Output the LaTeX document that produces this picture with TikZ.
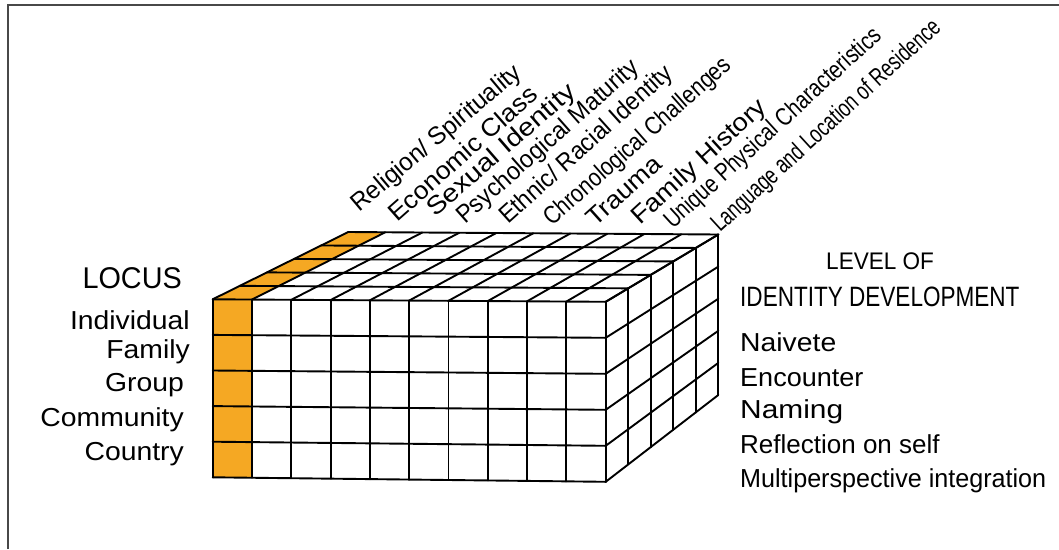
\documentclass[tikz,border=0pt]{standalone}
\usepackage{fontspec}
\usepackage{graphicx}
\setmainfont{Liberation Sans}
\definecolor{locusorange}{RGB}{245,168,35}
\definecolor{framegray}{RGB}{72,72,72}
\tikzset{
  gridline/.style={line width=1.9pt, line join=round, line cap=round, black},
  toplabel/.style={anchor=base west, inner sep=0pt, font=\fontsize{25}{25}\selectfont},
  locuslabel/.style={anchor=base east, inner sep=0pt, font=\fontsize{26}{26}\selectfont},
  levellabel/.style={anchor=base west, inner sep=0pt, font=\fontsize{26}{26}\selectfont},
}
% horizontally stretched text
\newcommand{\wide}[2]{\scalebox{#1}[1]{#2}}
\begin{document}
\begin{tikzpicture}[x=1pt,y=-1pt]
\useasboundingbox (0,0) rectangle (1059,549);
\fill[white] (0,0) rectangle (1059,549);
\draw[framegray, line width=2pt] (8,549) -- (8,5) -- (1059,5);

% lattice points of the 10 x 5 x 5 block (u: across, v: down, w: depth)
\foreach \u in {0,...,10}{
  \foreach \v in {0,...,5}{
    \foreach \w in {0,...,5}{
      \coordinate (p\u-\v-\w) at ({212.7+39.3*\u+\w*(27.12-0.46*\u)},
        {299.3+35.6*\v+\u*(0.25+0.04*\v)-\w*(13.46+0.78*\v)});
    }
  }
}

% faces
\fill[white] (p0-0-0) -- (p10-0-0) -- (p10-5-0) -- (p0-5-0) -- cycle;
\fill[white] (p0-0-0) -- (p10-0-0) -- (p10-0-5) -- (p0-0-5) -- cycle;
\fill[white] (p10-0-0) -- (p10-0-5) -- (p10-5-5) -- (p10-5-0) -- cycle;
% highlighted locus column
\fill[locusorange] (p0-0-0) -- (p1-0-0) -- (p1-5-0) -- (p0-5-0) -- cycle;
\fill[locusorange] (p0-0-0) -- (p1-0-0) -- (p1-0-5) -- (p0-0-5) -- cycle;

% front face grid
\foreach \v in {0,...,5} \draw[gridline] (p0-\v-0) -- (p10-\v-0);
\foreach \u in {0,...,10} \draw[gridline] (p\u-0-0) -- (p\u-5-0);
% top face grid
\foreach \u in {0,...,10} \draw[gridline] (p\u-0-0) -- (p\u-0-5);
\foreach \w in {1,...,5} \draw[gridline] (p0-0-\w) -- (p10-0-\w);
% right face grid
\foreach \v in {0,...,5} \draw[gridline] (p10-\v-0) -- (p10-\v-5);
\foreach \w in {1,...,5} \draw[gridline] (p10-0-\w) -- (p10-5-\w);

% dimension labels along the top
\node[toplabel, rotate=40]   (religion) at (359,213) {\wide{0.975}{Religion/ Spirituality}};
\node[toplabel, rotate=41.5] (economic) at (397,223) {\wide{1.06}{Economic Class}};
\node[toplabel, rotate=41]   (sexual)   at (435,218) {\wide{1.15}{Sexual Identity}};
\node[toplabel, rotate=41.5] (psych)    at (465,225) {\wide{0.94}{Psychological Maturity}};
\node[toplabel, rotate=42]   (ethnic)   at (508,225) {\wide{0.93}{Ethnic/ Racial Identity}};
\node[toplabel, rotate=41.5] (chrono)   at (552,227) {\wide{0.846}{Chronological Challenges}};
\node[toplabel, rotate=42]   (trauma)   at (595,228) {\wide{1.08}{Trauma}};
\node[toplabel, rotate=42.5] (famhist)  at (640,226) {\wide{1.095}{Family History}};
\node[toplabel, rotate=42.5] (unique)   at (673,230) {\wide{0.81}{Unique Physical Characteristics}};
\node[toplabel, rotate=42.5] (language) at (720,233) {\wide{0.727}{Language and Location of Residence}};

% locus labels
\node[anchor=base east, inner sep=0pt, font=\fontsize{30}{30}\selectfont] (locus) at (182,288) {\wide{0.96}{LOCUS}};
\node[locuslabel] (individual) at (190,329) {\wide{1.09}{Individual}};
\node[locuslabel] (family)     at (190,358) {\wide{1.09}{Family}};
\node[locuslabel] (group)      at (184,391) {\wide{1.09}{Group}};
\node[locuslabel] (community)  at (184,426) {\wide{1.09}{Community}};
\node[locuslabel] (country)    at (184,460) {\wide{1.09}{Country}};

% level of identity development labels
\node[anchor=base west, inner sep=0pt, font=\fontsize{24}{24}\selectfont] (levelof) at (826,269) {\wide{0.94}{LEVEL OF}};
\node[anchor=base west, inner sep=0pt, font=\fontsize{28}{28}\selectfont] (idev) at (740,306) {\wide{0.805}{IDENTITY DEVELOPMENT}};
\node[levellabel] (naivete)    at (740,351) {\wide{1.09}{Naivete}};
\node[levellabel] (encounter)  at (740,386) {\wide{1.04}{Encounter}};
\node[levellabel] (naming)     at (740,418) {\wide{1.15}{Naming}};
\node[levellabel] (reflection) at (740,453) {Reflection on self};
\node[levellabel] (multi)      at (740,487) {\wide{0.967}{Multiperspective integration}};
\end{tikzpicture}
\end{document}
